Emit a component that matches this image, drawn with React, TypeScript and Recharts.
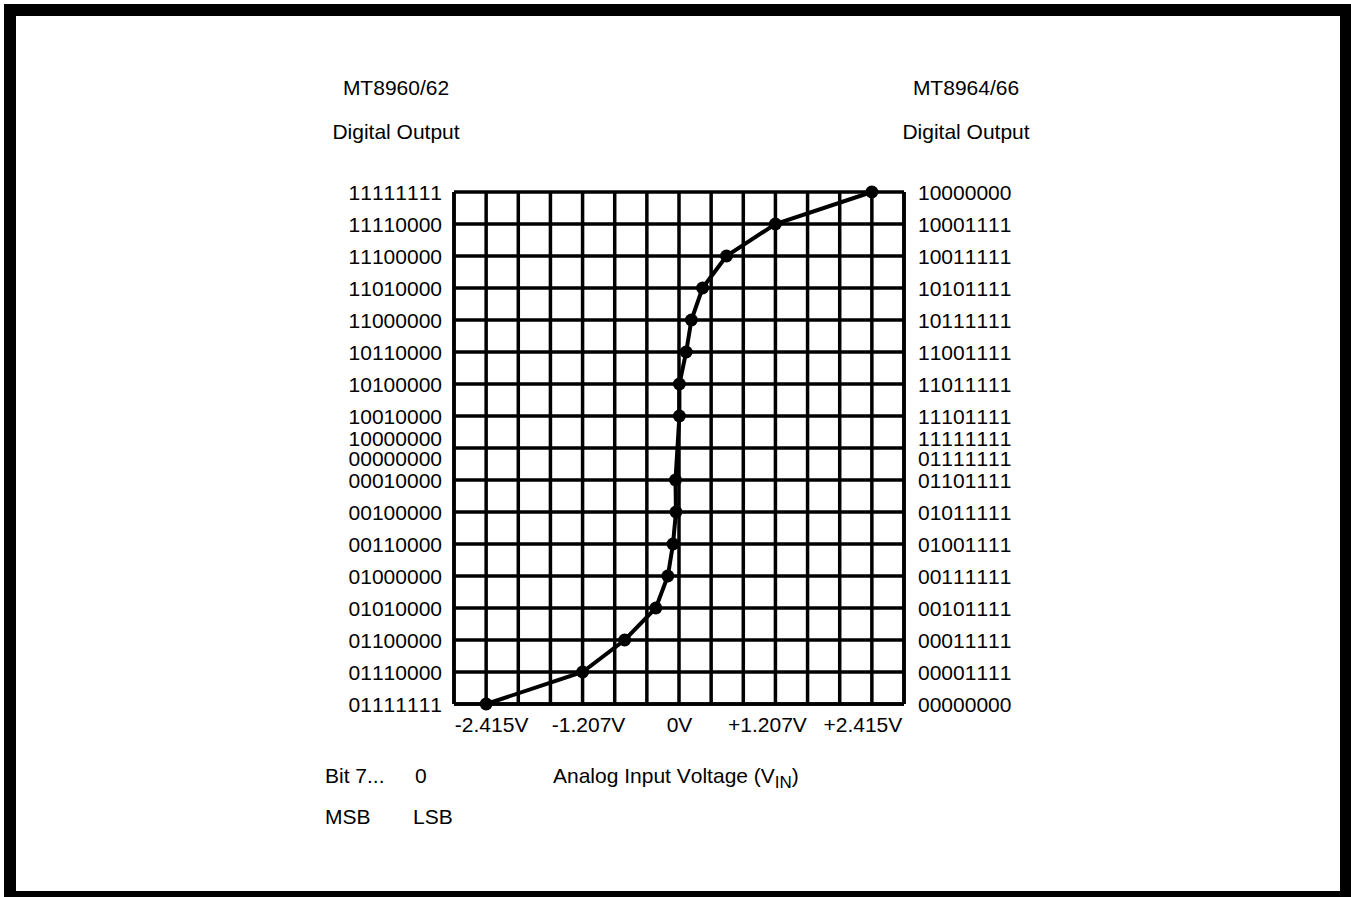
import { LineChart, Line, XAxis, YAxis, CartesianGrid } from "recharts";

// grid row (0 = bottom) and input voltage of each plotted code boundary
const codeLevel = [0, 1, 2, 3, 4, 5, 6, 7, 9, 10, 11, 12, 13, 14, 15, 16];
const inputVolts = [
  -2.415, -1.207, -0.68, -0.29, -0.14, -0.075, -0.038, -0.044, 0.005, 0.005, 0.09,
  0.155, 0.295, 0.595, 1.207, 2.415,
];

// y ticks, bottom to top; the middle row carries two codes
const rowTicks = [0, 1, 2, 3, 4, 5, 6, 7, 8, 9, 10, 11, 12, 13, 14, 15, 16];
const leftCodes: (string | string[])[] = [
  "01111111", "01110000", "01100000", "01010000", "01000000", "00110000", "00100000",
  "00010000", ["10000000", "00000000"], "10010000", "10100000", "10110000", "11000000",
  "11010000", "11100000", "11110000", "11111111",
];
const rightCodes: (string | string[])[] = [
  "00000000", "00001111", "00011111", "00101111", "00111111", "01001111", "01011111",
  "01101111", ["11111111", "01111111"], "11101111", "11011111", "11001111", "10111111",
  "10101111", "10011111", "10001111", "10000000",
];

// vertical grid positions (volts) and the labelled ones
const voltGrid = [
  -2.8175, -2.415, -2.0125, -1.61, -1.2075, -0.805, -0.4025, 0, 0.4025, 0.805, 1.2075,
  1.61, 2.0125, 2.415, 2.8175,
];
const voltLabelAt = [-2.415, -1.2075, 0, 1.2075, 2.415];
const voltLabelText = ["-2.415V", "-1.207V", "0V", "+1.207V", "+2.415V"];

const data = codeLevel.map((c, i) => ({ volt: inputVolts[i], code: c }));

const FONT = "'Liberation Sans', Arial, Helvetica, sans-serif";
const FS = 21;
const noKern = { fontKerning: "none" as const };
const labelNudge = [5.5, 6, 0.5, -8, -9];

function CodeTick(props: any) {
  const { x, y, payload, codes, anchor } = props;
  const c = codes[payload.value];
  if (Array.isArray(c)) {
    return (
      <g>
        <text x={x} y={y - 2} textAnchor={anchor} fontSize={FS} fontFamily={FONT} fill="#000" style={noKern}>
          {c[0]}
        </text>
        <text x={x} y={y + 17.5} textAnchor={anchor} fontSize={FS} fontFamily={FONT} fill="#000" style={noKern}>
          {c[1]}
        </text>
      </g>
    );
  }
  return (
    <text x={x} y={y + 7.5} textAnchor={anchor} fontSize={FS} fontFamily={FONT} fill="#000" style={noKern}>
      {c}
    </text>
  );
}

function VoltTick(props: any) {
  const { x, payload } = props;
  const i = voltLabelAt.indexOf(payload.value);
  if (i < 0) return null;
  return (
    <text x={x + labelNudge[i]} y={732} textAnchor="middle" fontSize={FS} fontFamily={FONT} fill="#000" style={noKern}>
      {voltLabelText[i]}
    </text>
  );
}

export default function App() {
  return (
    <div
      style={{
        position: "absolute",
        left: 0,
        top: 0,
        width: 1351,
        height: 897,
        overflow: "hidden",
        background: "#fff",
        fontKerning: "none",
      }}
    >
      <div
        style={{
          position: "absolute",
          left: 4,
          top: 4,
          width: 1348,
          height: 899,
          border: "12px solid #000",
          boxSizing: "border-box",
        }}
      />
      <div style={{ position: "absolute", left: 0, top: 0 }}>
        <LineChart width={1351} height={897} data={data} margin={{ top: 192, right: 327, bottom: 153, left: 334 }}>
          <CartesianGrid yAxisId="left" stroke="#000" strokeWidth={3.5} strokeOpacity={1} />
          <XAxis
            type="number"
            dataKey="volt"
            domain={[-2.8175, 2.8175]}
            ticks={voltGrid}
            interval={0}
            allowDataOverflow
            height={40}
            tickLine={false}
            axisLine={{ stroke: "#000", strokeWidth: 3.5 }}
            tick={<VoltTick />}
          />
          <YAxis
            yAxisId="left"
            type="number"
            domain={[0, 16]}
            ticks={rowTicks}
            interval={0}
            width={120}
            tickLine={false}
            tickSize={0}
            tickMargin={12}
            axisLine={{ stroke: "#000", strokeWidth: 3.5 }}
            tick={<CodeTick codes={leftCodes} anchor="end" />}
          />
          <YAxis
            yAxisId="right"
            orientation="right"
            type="number"
            domain={[0, 16]}
            ticks={rowTicks}
            interval={0}
            width={120}
            tickLine={false}
            tickSize={0}
            tickMargin={14}
            axisLine={{ stroke: "#000", strokeWidth: 3.5 }}
            tick={<CodeTick codes={rightCodes} anchor="start" />}
          />
          <Line
            yAxisId="right"
            type="linear"
            dataKey="code"
            stroke="none"
            dot={false}
            activeDot={false}
            isAnimationActive={false}
          />
          <Line
            yAxisId="left"
            type="linear"
            dataKey="code"
            stroke="#000"
            strokeWidth={4}
            dot={{ r: 6.5, fill: "#000", stroke: "#000", strokeWidth: 0 }}
            isAnimationActive={false}
          />
        </LineChart>
      </div>
      <svg width={1351} height={897} style={{ position: "absolute", left: 0, top: 0, pointerEvents: "none" }}>
        <g fontFamily={FONT} fontSize={FS} fill="#000" style={noKern}>
          <text x={396} y={95} textAnchor="middle">MT8960/62</text>
          <text x={396} y={139} textAnchor="middle">Digital Output</text>
          <text x={966} y={95} textAnchor="middle">MT8964/66</text>
          <text x={966} y={139} textAnchor="middle">Digital Output</text>
          <text x={325} y={783}>Bit 7...</text>
          <text x={415} y={783}>0</text>
          <text x={553} y={783}>
            Analog Input Voltage (V<tspan fontSize={17} dy={5}>IN</tspan>
            <tspan dy={-5}>)</tspan>
          </text>
          <text x={325} y={824}>MSB</text>
          <text x={413} y={824}>LSB</text>
        </g>
      </svg>
    </div>
  );
}
